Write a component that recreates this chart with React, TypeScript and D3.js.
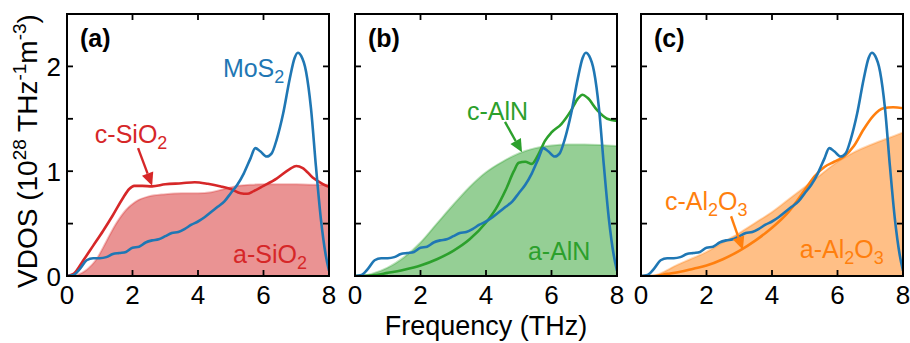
import React from 'react';
import * as d3 from 'd3';

// ---- data (frequency in THz, VDOS in 1e28 THz^-1 m^-3) ----
const mosFreq = [0, 0.2, 0.4, 0.6, 0.8, 1.0, 1.2, 1.4, 1.6, 1.8, 2.0, 2.2, 2.4, 2.6, 2.8, 3.0, 3.2, 3.4, 3.6, 3.8, 4.0, 4.2, 4.4, 4.6, 4.8, 5.0, 5.2, 5.4, 5.6, 5.75, 5.9, 6.1, 6.25, 6.4, 6.6, 6.8, 6.95, 7.05, 7.15, 7.3, 7.45, 7.6, 7.75, 7.9, 8.0];
const mosVdos = [0, 0.01, 0.07, 0.15, 0.17, 0.17, 0.18, 0.21, 0.22, 0.23, 0.27, 0.28, 0.32, 0.34, 0.35, 0.38, 0.41, 0.42, 0.45, 0.49, 0.52, 0.56, 0.61, 0.66, 0.71, 0.79, 0.87, 0.98, 1.12, 1.22, 1.19, 1.14, 1.17, 1.3, 1.55, 1.88, 2.08, 2.13, 2.1, 1.95, 1.6, 1.05, 0.55, 0.2, 0.05];

const cSiO2Freq = [0, 0.2, 0.5, 0.8, 1.1, 1.4, 1.7, 1.9, 2.05, 2.3, 2.6, 3.0, 3.5, 3.9, 4.3, 4.7, 5.0, 5.3, 5.5, 5.7, 6.0, 6.4, 6.8, 7.0, 7.2, 7.5, 7.8, 8.0];
const cSiO2Vdos = [0, 0.02, 0.15, 0.29, 0.43, 0.58, 0.74, 0.83, 0.86, 0.86, 0.855, 0.875, 0.885, 0.895, 0.88, 0.855, 0.83, 0.79, 0.785, 0.81, 0.86, 0.93, 1.02, 1.05, 1.03, 0.94, 0.88, 0.85];
const aSiO2Freq = [0, 0.3, 0.6, 0.9, 1.2, 1.5, 1.8, 2.1, 2.5, 3.0, 3.5, 4.0, 4.4, 4.8, 5.2, 5.6, 6.0, 7.0, 7.5, 8.0];
const aSiO2Vdos = [0, 0.01, 0.06, 0.16, 0.33, 0.5, 0.63, 0.71, 0.76, 0.78, 0.79, 0.79, 0.8, 0.83, 0.86, 0.87, 0.875, 0.875, 0.87, 0.87];

const cAlNFreq = [0, 0.5, 1.0, 1.5, 2.0, 2.5, 3.0, 3.5, 4.0, 4.3, 4.6, 4.85, 5.0, 5.2, 5.4, 5.6, 5.8, 6.0, 6.3, 6.6, 6.8, 6.95, 7.1, 7.4, 7.7, 8.0];
const cAlNVdos = [0, 0.005, 0.03, 0.06, 0.1, 0.16, 0.24, 0.35, 0.51, 0.64, 0.82, 1.0, 1.08, 1.09, 1.07, 1.16, 1.29, 1.37, 1.45, 1.58, 1.69, 1.73, 1.7, 1.58, 1.5, 1.48];
const aAlNFreq = [0, 0.5, 1.0, 1.5, 2.0, 2.5, 3.0, 3.5, 4.0, 4.5, 5.0, 5.5, 6.0, 6.5, 7.0, 7.5, 8.0];
const aAlNVdos = [0, 0.02, 0.08, 0.18, 0.32, 0.5, 0.68, 0.85, 0.99, 1.09, 1.17, 1.22, 1.245, 1.255, 1.255, 1.25, 1.24];

const cAl2O3Freq = [0, 0.4, 0.8, 1.2, 1.6, 2.0, 2.5, 3.0, 3.5, 4.0, 4.5, 5.0, 5.3, 5.6, 5.9, 6.2, 6.5, 6.8, 7.1, 7.4, 7.7, 8.0];
const cAl2O3Vdos = [0, 0, 0.02, 0.04, 0.07, 0.1, 0.16, 0.24, 0.34, 0.46, 0.61, 0.82, 0.95, 1.04, 1.09, 1.14, 1.24, 1.4, 1.53, 1.6, 1.61, 1.6];
const aAl2O3Freq = [0, 0.3, 0.7, 1.0, 1.5, 2.0, 2.5, 3.0, 3.5, 4.0, 4.5, 5.0, 5.5, 6.0, 6.5, 7.0, 7.5, 8.0];
const aAl2O3Vdos = [0, 0, 0.04, 0.09, 0.16, 0.23, 0.32, 0.41, 0.51, 0.61, 0.73, 0.85, 0.97, 1.09, 1.18, 1.25, 1.31, 1.37];

const xTicks = [0, 2, 4, 6, 8];
const yTicks = [0, 0.5, 1, 1.5, 2, 2.5];
const yTickLabels = [0, 1, 2];
const panelLabels = ['(a)', '(b)', '(c)'];

type Pt = [number, number];
const zip = (xs: number[], ys: number[]): Pt[] => xs.map((v, i) => [v, ys[i]]);

const BLUE = '#1f77b4';
const FONT = '"Liberation Sans", Arial, Helvetica, sans-serif';

const plotTop = 14;
const plotBottom = 276;
const plotWidth = 262;
const panelLefts = [67, 355, 641];

const yScale = d3.scaleLinear().domain([0, 2.5]).range([plotBottom, plotTop]);

interface Note {
  main: string;
  sub?: string[]; // alternating pieces: [subscript, text, subscript, ...]
  x: number;
  y: number;
  color: string;
}

interface PanelSpec {
  label: string;
  color: string;
  crystal: Pt[];
  amorph: Pt[];
  notes: Note[];
  arrow: { from: Pt; to: Pt };
}

function Label({ note, xs }: { note: Note; xs: d3.ScaleLinear<number, number> }) {
  const pieces = note.sub || [];
  return (
    <text x={xs(note.x)} y={yScale(note.y)} fill={note.color} fontSize={25} fontFamily={FONT}>
      {note.main}
      {pieces.map((p, i) =>
        i % 2 === 0 ? (
          <tspan key={i} dy={6} fontSize={18}>{p}</tspan>
        ) : (
          <tspan key={i} dy={-6}>{p}</tspan>
        )
      )}
    </text>
  );
}

function Panel({ spec, index }: { spec: PanelSpec; index: number }) {
  const left = panelLefts[index];
  const xs = d3.scaleLinear().domain([0, 8]).range([left, left + plotWidth]);
  const line = d3
    .line<Pt>()
    .x((d) => xs(d[0]))
    .y((d) => yScale(d[1]))
    .curve(d3.curveMonotoneX);
  const area = d3
    .area<Pt>()
    .x((d) => xs(d[0]))
    .y0(yScale(0))
    .y1((d) => yScale(d[1]))
    .curve(d3.curveMonotoneX);
  const clipId = `clip-${index}`;
  const mos = zip(mosFreq, mosVdos);

  // arrow geometry
  const ax0 = xs(spec.arrow.from[0]);
  const ay0 = yScale(spec.arrow.from[1]);
  const ax1 = xs(spec.arrow.to[0]);
  const ay1 = yScale(spec.arrow.to[1]);
  const ang = Math.atan2(ay1 - ay0, ax1 - ax0);
  const headLen = 13;
  const headHalf = 6;
  const bx = ax1 - headLen * Math.cos(ang);
  const by = ay1 - headLen * Math.sin(ang);
  const px = -Math.sin(ang) * headHalf;
  const py = Math.cos(ang) * headHalf;
  const tick = 6;

  return (
    <g>
      <defs>
        <clipPath id={clipId}>
          <rect x={left} y={plotTop} width={plotWidth} height={plotBottom - plotTop} />
        </clipPath>
      </defs>
      <g clipPath={`url(#${clipId})`}>
        <path d={area(spec.amorph) || ''} fill={spec.color} fillOpacity={0.5} />
        <path d={line(spec.amorph) || ''} fill="none" stroke={spec.color} strokeOpacity={0.3} strokeWidth={2} />
        <path d={line(spec.crystal) || ''} fill="none" stroke={spec.color} strokeWidth={2.6} />
        <path d={line(mos) || ''} fill="none" stroke={BLUE} strokeWidth={2.6} />
      </g>
      {/* arrow */}
      <line x1={ax0} y1={ay0} x2={bx} y2={by} stroke={spec.color} strokeWidth={2.4} />
      <polygon
        points={`${ax1},${ay1} ${bx + px},${by + py} ${bx - px},${by - py}`}
        fill={spec.color}
      />
      {/* ticks */}
      {xTicks.slice(1, -1).map((t) => (
        <g key={`xt${t}`}>
          <line x1={xs(t)} x2={xs(t)} y1={plotBottom} y2={plotBottom - tick} stroke="#000" strokeWidth={1.8} />
          <line x1={xs(t)} x2={xs(t)} y1={plotTop} y2={plotTop + tick} stroke="#000" strokeWidth={1.8} />
        </g>
      ))}
      {yTicks.slice(1, -1).map((t) => (
        <g key={`yt${t}`}>
          <line x1={left} x2={left + tick} y1={yScale(t)} y2={yScale(t)} stroke="#000" strokeWidth={1.8} />
          <line x1={left + plotWidth} x2={left + plotWidth - tick} y1={yScale(t)} y2={yScale(t)} stroke="#000" strokeWidth={1.8} />
        </g>
      ))}
      <rect x={left} y={plotTop} width={plotWidth} height={plotBottom - plotTop} fill="none" stroke="#000" strokeWidth={2} />
      {xTicks.map((t) => (
        <text key={`xl${t}`} x={xs(t)} y={304} textAnchor="middle" fontSize={26} fontFamily={FONT} fill="#000">
          {t}
        </text>
      ))}
      {index === 0 &&
        yTickLabels.map((t) => (
          <text key={`yl${t}`} x={left - 6} y={yScale(t) + 9.5} textAnchor="end" fontSize={26} fontFamily={FONT} fill="#000">
            {t}
          </text>
        ))}
      <text x={left + 13} y={47} fontSize={25} fontWeight="bold" fontFamily={FONT} fill="#000">
        {spec.label}
      </text>
      {spec.notes.map((n, i) => (
        <Label key={i} note={n} xs={xs} />
      ))}
    </g>
  );
}

const RED = '#d62728';
const GREEN = '#2ca02c';
const ORANGE = '#ff7f0e';

const panels: PanelSpec[] = [
  {
    label: panelLabels[0],
    color: RED,
    crystal: zip(cSiO2Freq, cSiO2Vdos),
    amorph: zip(aSiO2Freq, aSiO2Vdos),
    notes: [
      { main: 'MoS', sub: ['2'], x: 4.76, y: 1.9, color: BLUE },
      { main: 'c-SiO', sub: ['2'], x: 0.85, y: 1.27, color: RED },
      { main: 'a-SiO', sub: ['2'], x: 5.07, y: 0.124, color: RED },
    ],
    arrow: { from: [2.17, 1.22], to: [2.6, 0.86] },
  },
  {
    label: panelLabels[1],
    color: GREEN,
    crystal: zip(cAlNFreq, cAlNVdos),
    amorph: zip(aAlNFreq, aAlNVdos),
    notes: [
      { main: 'c-AlN', x: 3.42, y: 1.49, color: GREEN },
      { main: 'a-AlN', x: 5.28, y: 0.153, color: GREEN },
    ],
    arrow: { from: [4.58, 1.47], to: [5.1, 1.18] },
  },
  {
    label: panelLabels[2],
    color: ORANGE,
    crystal: zip(cAl2O3Freq, cAl2O3Vdos),
    amorph: zip(aAl2O3Freq, aAl2O3Vdos),
    notes: [
      { main: 'c-Al', sub: ['2', 'O', '3'], x: 0.73, y: 0.63, color: ORANGE },
      { main: 'a-Al', sub: ['2', 'O', '3'], x: 4.85, y: 0.17, color: ORANGE },
    ],
    arrow: { from: [2.75, 0.57], to: [3.11, 0.25] },
  },
];

export default function App() {
  return (
    <svg
      width={910}
      height={343}
      viewBox="0 0 910 343"
      style={{ position: 'absolute', left: 0, top: 0, background: '#fff' }}
    >
      <rect width={910} height={343} fill="#fff" />
      {panels.map((p, i) => (
        <Panel key={i} spec={p} index={i} />
      ))}
      <text transform="translate(37,151) rotate(-90)" textAnchor="middle" fontSize={28} fontFamily={FONT} fill="#000">
        VDOS (10
        <tspan dy={-11} fontSize={19}>28</tspan>
        <tspan dy={11}>{' THz'}</tspan>
        <tspan dy={-11} fontSize={19}>-1</tspan>
        <tspan dy={11}>m</tspan>
        <tspan dy={-11} fontSize={19}>-3</tspan>
        <tspan dy={11}>)</tspan>
      </text>
      <text x={486} y={335} textAnchor="middle" fontSize={27} fontFamily={FONT} fill="#000">
        Frequency (THz)
      </text>
    </svg>
  );
}
